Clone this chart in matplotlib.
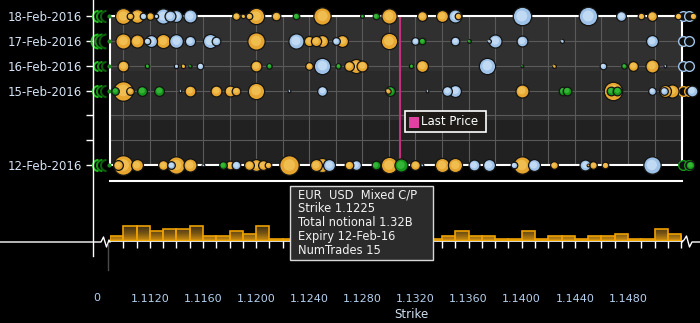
import numpy as np
import matplotlib
matplotlib.use('Agg')
import matplotlib.pyplot as plt
from matplotlib.lines import Line2D
from matplotlib.patches import Rectangle, PathPatch
from matplotlib.path import Path
from matplotlib.transforms import Affine2D
from matplotlib.colors import LinearSegmentedColormap

plt.rcParams['font.family'] = 'DejaVu Sans'

###--- trades by expiry: strike, notional (USD mn), kind (M mixed, C call, P put)
feb18_strike = [1.1100, 1.1105, 1.1110, 1.1115, 1.1120, 1.1125, 1.1130, 1.1135, 1.1140, 1.1150,
                1.1185, 1.1190, 1.1195, 1.1200, 1.1215, 1.1230, 1.1250, 1.1280, 1.1290, 1.1300,
                1.1325, 1.1340, 1.1350, 1.1352, 1.1400, 1.1450, 1.1475, 1.1490, 1.1498, 1.1518, 1.1529]
feb18_notional = [870, 150, 650, 150, 200, 65, 800, 410, 490, 590,
                  200, 65, 150, 920, 260, 150, 1040, 50, 150, 800,
                  330, 490, 590, 150, 1180, 1180, 330, 150, 330, 150, 150]
feb18_kind = "MMMCMCCCCC" "MMMMMPMPPM" "MMCMCCCMMMM"

feb17_strike = [1.1100, 1.1110, 1.1118, 1.1121, 1.1130, 1.1140, 1.1150, 1.1165, 1.1170, 1.1200,
                1.1230, 1.1240, 1.1245, 1.1250, 1.1260, 1.1265, 1.1300, 1.1320, 1.1325, 1.1350,
                1.1360, 1.1375, 1.1380, 1.1400, 1.1430, 1.1498]
feb17_notional = [800, 590, 150, 490, 690, 650, 360, 690, 260, 1040,
                  800, 360, 360, 490, 200, 490, 920, 200, 150, 260,
                  50, 50, 590, 410, 50, 490]
feb17_kind = "MMCCMCCCCM" "CMMMCMMCPC" "PCCCCC"

feb16_strike = [1.1100, 1.1118, 1.1140, 1.1145, 1.1150, 1.1158, 1.1200, 1.1210, 1.1240, 1.1250,
                1.1262, 1.1270, 1.1275, 1.1280, 1.1317, 1.1325, 1.1374, 1.1400, 1.1424, 1.1461,
                1.1477, 1.1484, 1.1498, 1.1508]
feb16_notional = [410, 65, 65, 65, 35, 150, 410, 100, 200, 920,
                  100, 330, 690, 410, 65, 490, 920, 25, 50, 150,
                  100, 330, 590, 25]
feb16_kind = "MPCMPCMPMC" "PMMMPMCPMC" "PMMC"

feb15_strike = [1.1094, 1.1100, 1.1105, 1.1114, 1.1127, 1.1143, 1.1150, 1.1170, 1.1180, 1.1185,
                1.1200, 1.1225, 1.1250, 1.1301, 1.1299, 1.1329, 1.1344, 1.1350, 1.1400, 1.1431,
                1.1434, 1.1469, 1.1467, 1.1472, 1.1498, 1.1507, 1.1508, 1.1513, 1.1528]
feb15_notional = [200, 1320, 200, 330, 330, 25, 410, 410, 410, 260,
                  920, 25, 330, 330, 100, 25, 330, 490, 590, 260,
                  260, 1180, 260, 260, 200, 200, 490, 590, 410]
feb15_kind = "PMMPPCMMMM" "MCCPMCCCMP" "PMPPCCMMC"

feb12_strike = [1.1096, 1.1100, 1.1110, 1.1130, 1.1136, 1.1140, 1.1150, 1.1160, 1.1175, 1.1180,
                1.1185, 1.1195, 1.1200, 1.1205, 1.1209, 1.1225, 1.1245, 1.1250, 1.1255, 1.1270,
                1.1275, 1.1290, 1.1300, 1.1309, 1.1320, 1.1325, 1.1340, 1.1350, 1.1364, 1.1375,
                1.1394, 1.1400, 1.1409, 1.1424, 1.1450, 1.1448, 1.1454, 1.1463, 1.1498, 1.1527]
feb12_notional = [330, 1320, 490, 330, 200, 1040, 590, 25, 200, 260,
                  260, 330, 490, 330, 150, 1320, 490, 690, 490, 260,
                  330, 260, 920, 590, 330, 25, 690, 690, 410, 490,
                  150, 1040, 490, 200, 25, 410, 200, 150, 1040, 260]
feb12_kind = "MMMMCMMCPM" "CMMMMMMMCM" "CPMPMCMMCC" "CMCMMCMMCP"

expiry_day = [18, 17, 16, 15, 12]
edge_right_kind = ["C", "C", "C", "M", "P"]
edge_left_size = [8, 10, 6.5, 8, 8]

day_ticks = [12, 13, 14, 15, 16, 17, 18]
day_labels = ['12-Feb-2016', '', '', '15-Feb-2016', '16-Feb-2016', '17-Feb-2016', '18-Feb-2016']

last_price = 1.1308

###--- trade count histogram, bins of 0.001 from 1.1090
hist_start = 1.1090
hist_width = 0.001
hist_count = [2, 6, 6, 4, 5, 5, 6, 2, 2, 4, 3, 6, 1, 1, 2, 3, 2, 4, 3, 6, 2, 3,
              5, 2, 1, 2, 4, 2, 2, 1, 1, 4, 1, 2, 2, 1, 2, 2, 3, 1, 1, 5, 3, 2]

strike_ticks = [1.1120, 1.1160, 1.1200, 1.1240, 1.1280, 1.1320, 1.1360, 1.1400, 1.1440, 1.1480]
strike_labels = ['1.1120', '1.1160', '1.1200', '1.1240', '1.1280',
                 '1.1320', '1.1360', '1.1400', '1.1440', '1.1480']

tooltip_lines = ['EUR  USD  Mixed C/P', 'Strike 1.1225', 'Total notional 1.32B',
                 'Expiry 12-Feb-16', 'NumTrades 15']

base_col = {'M': '#e6a630', 'C': '#9fc3e8', 'P': '#16961a'}
light_col = {'M': '#f6cd66', 'C': '#d8eafb', 'P': '#48cc48'}

XMIN, XMAX = 1.1090, 1.15207
W, H = 700, 323
AREA_PER_MN = 0.15      # marker area (pt^2) per USD mn notional


def fx(x):
    return x / W


def fy(y):
    return 1 - y / H


fig = plt.figure(figsize=(W / 100, H / 100), dpi=100, facecolor='black')


def fig_line(xs, ys, **kw):
    fig.add_artist(Line2D([fx(x) for x in xs], [fy(y) for y in ys],
                          transform=fig.transFigure, **kw))


###++++++++++++++++++++++++++++++++++++++++++++++++++++++++++++++++++
###---> bubble panel
###++++++++++++++++++++++++++++++++++++++++++++++++++++++++++++++++++
ax = fig.add_axes([fx(110), fy(165), 572 / W, 149 / H])
ax.set_facecolor('#242424')
ax.set_xlim(XMIN, XMAX)
ax.set_ylim(12, 18)
ax.axhspan(15.78, 18, color='#303030', lw=0, zorder=0)
ax.axhspan(14.0, 15.78, color='#2a2a2a', lw=0, zorder=0)
ax.axhspan(13.8, 14.0, color='#2e2e2e', lw=0, zorder=0)
ax.axhspan(12, 13.8, color='#212121', lw=0, zorder=0)

ax.set_xticks(np.arange(1.110, 1.1525, 0.002))
ax.set_yticks(day_ticks)
ax.grid(True, color='#5a5a5a', lw=0.8, zorder=1)
ax.set_axisbelow(True)
ax.tick_params(length=0, labelbottom=False, labelleft=False)
for sp in ax.spines.values():
    sp.set_color('white')
    sp.set_linewidth(1.5)

sec = ax.secondary_yaxis(-17 / 572)
sec.set_yticks(day_ticks, day_labels)
sec.tick_params(colors='white', length=5, width=1, labelcolor='#d6e4f4', labelsize=8.5, pad=3)
sec.spines['left'].set_color('white')

ax.axvline(last_price, color='#c2307e', lw=1.5, zorder=2)

rows = [(feb18_strike, feb18_notional, feb18_kind),
        (feb17_strike, feb17_notional, feb17_kind),
        (feb16_strike, feb16_notional, feb16_kind),
        (feb15_strike, feb15_notional, feb15_kind),
        (feb12_strike, feb12_notional, feb12_kind)]

bubbles = []
for day, (strikes, notionals, kinds) in zip(expiry_day, rows):
    for s, n, k in zip(strikes, notionals, kinds):
        bubbles.append((n, day, s, k))
bubbles.sort(key=lambda b: -b[0])

z = 4
for n, day, s, k in bubbles:
    size = n * AREA_PER_MN
    ax.scatter([s], [day], s=size, c=base_col[k], edgecolors='#141414', linewidths=0.9,
               zorder=z, clip_on=False)
    ax.scatter([s], [day], s=size * 0.35, c=light_col[k], edgecolors='none', alpha=0.6,
               zorder=z + 0.5, clip_on=False)
    z += 1

# off-range markers at both ends of each row
left_arc = Path.arc(90, 270)
for day, ms in zip(expiry_day, edge_left_size):
    for xs, col in zip([1.10808, 1.10838, 1.10868], ['#1fc01f', '#149014', '#0d5e0d']):
        ax.plot([xs], [day], marker=left_arc, ms=ms, mfc='none', mec=col, mew=1.5,
                ls='none', clip_on=False, zorder=3)
    ax.plot([1.10890], [day], 'o', ms=2, color='#1c8a1c', clip_on=False, zorder=3)
for day, k in zip(expiry_day, edge_right_kind):
    for xs in [1.15215, 1.15260]:
        ax.plot([xs], [day], 'o', ms=7, mfc='#101010', mec=base_col[k], mew=1.0,
                clip_on=False, zorder=3)

###++++++++++++++++++++++++++++++++++++++++++++++++++++++++++++++++++
###---> histogram panel
###++++++++++++++++++++++++++++++++++++++++++++++++++++++++++++++++++
axb = fig.add_axes([fx(110), fy(241), 572 / W, 60 / H])
axb.set_facecolor('black')
left_edges = hist_start + hist_width * np.arange(len(hist_count))

grad_cmap = LinearSegmentedColormap.from_list(
    'bar_grad', [(0, '#d09010'), (0.12, '#7a5614'), (0.25, '#3a2c12'), (1, '#33260f')])
grad = np.linspace(0, 1, 200).reshape(-1, 1)
im = axb.imshow(grad, extent=[XMIN, XMAX + 0.002, 0, 24], origin='lower', aspect='auto',
                cmap=grad_cmap, zorder=2)
rects = [Path.unit_rectangle().transformed(Affine2D().scale(hist_width, c).translate(x0, 0))
         for x0, c in zip(left_edges, hist_count)]
clip = PathPatch(Path.make_compound_path(*rects), transform=axb.transData,
                 facecolor='none', edgecolor='none')
axb.add_patch(clip)
im.set_clip_path(clip)

axb.bar(left_edges, hist_count, width=hist_width, align='edge', facecolor='none',
        edgecolor='#eda000', lw=1.2, zorder=3)
axb.axhline(0.2, color='#f0a800', lw=2.4, zorder=4)
axb.set_xlim(XMIN, XMAX)
axb.set_ylim(0, 24)

axb.set_yticks([])
axb.set_xticks(strike_ticks, strike_labels)
axb.set_xticks(np.arange(1.110, 1.1525, 0.001), minor=True)
axb.tick_params(axis='x', which='both', direction='out', length=5, width=1, color='white')
axb.tick_params(axis='x', which='major', pad=33, labelcolor='#b4d0ee', labelsize=8)
axb.set_xlabel('Strike', color='#d0e0f2', fontsize=8.5)
axb.xaxis.set_label_coords((411 - 110) / 572, -(308 - 241) / 60)
for side in ['left', 'right']:
    axb.spines[side].set_visible(False)
axb.spines['top'].set_color('white')
axb.spines['top'].set_linewidth(1.5)
axb.spines['bottom'].set_color('white')
axb.spines['bottom'].set_linewidth(1.2)

###++++++++++++++++++++++++++++++++++++++++++++++++++++++++++++++++++
###---> axis lines, breaks, labels
###++++++++++++++++++++++++++++++++++++++++++++++++++++++++++++++++++
fig_line([93, 93], [0, 256], color='white', lw=1)
fig_line([0, 101, 103.5, 106.5, 109, 110], [242, 242, 237, 247, 240, 242], color='white', lw=1)
fig_line([682, 684, 686.5, 689.5, 692, 700], [242, 240, 236, 247, 242, 242], color='white', lw=1)
fig_line([108, 108], [244, 270], color='#4a4a4a', lw=1)
fig.text(fx(97), fy(298), '0', color='#b4d0ee', fontsize=8, ha='center', va='center')

# last price legend box
fig.add_artist(Rectangle((fx(405), fy(132)), (485.5 - 405) / W, 21 / H, transform=fig.transFigure,
                         facecolor='#1d1a17', edgecolor='white', lw=1.2))
fig.add_artist(Rectangle((fx(409), fy(128)), 10 / W, 11 / H, transform=fig.transFigure,
                         facecolor='#e040a0', edgecolor='none'))
fig.text(fx(421), fy(122), 'Last Price', color='white', fontsize=8.5, ha='left', va='center')

# tooltip
fig.add_artist(Rectangle((fx(289.5), fy(260)), (432.5 - 289.5) / W, 74.5 / H,
                         transform=fig.transFigure, facecolor='#2b2b2b',
                         edgecolor='#d8d8d8', lw=1.0))
for i, line in enumerate(tooltip_lines):
    fig.text(fx(298), fy(194.5 + 14 * i), line, color='#f2f2f2', fontsize=8.3,
             ha='left', va='center')

fig.savefig('out.png', dpi=100, facecolor='black')
